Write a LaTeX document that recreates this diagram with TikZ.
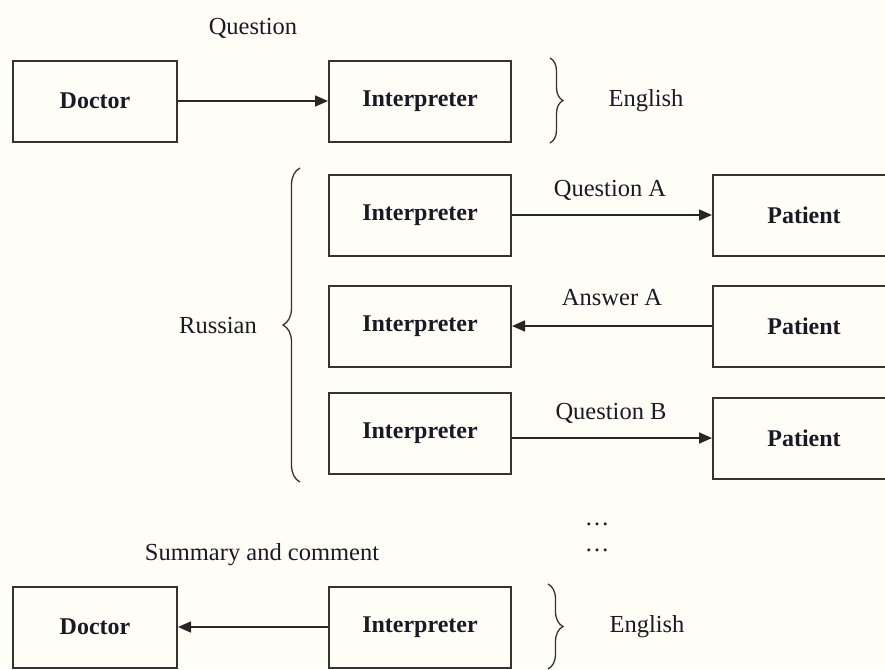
\documentclass[tikz,border=0pt]{standalone}
\usepackage{fontspec}
\setmainfont{Liberation Serif}
\usetikzlibrary{arrows.meta,decorations.pathreplacing}
\definecolor{bgcream}{HTML}{FFFEF6}
\definecolor{inkline}{HTML}{333333}
\definecolor{inktext}{HTML}{1A1A26}
\tikzset{
  box/.style={draw=inkline, line width=2pt, rectangle, minimum height=81pt,
    text=inktext, font=\fontsize{24}{28}\selectfont\bfseries, inner sep=0pt},
  docbox/.style={box, minimum width=164pt},
  intbox/.style={box, minimum width=182pt},
  lbl/.style={text=inktext, font=\fontsize{24.5}{29}\selectfont, inner sep=0pt},
  conn/.style={draw=black!85, line width=1.7pt, -{Triangle[length=13pt,width=11pt]}},
  bracestyle/.style={draw=inkline, line width=1.3pt, decorate},
}
\begin{document}
\begin{tikzpicture}[x=1pt,y=-1pt]
\fill[bgcream] (0,0) rectangle (885,669);
\clip (0,0) rectangle (885,669);

% top row
\node[docbox] (docT) at (95,101) {Doctor};
\node[intbox] (intT) at (420,101) {Interpreter};
\draw[conn] (docT.east) -- (intT.west);
\node[lbl] (qT) at (253,28) {Question};
\draw[bracestyle, decoration={brace, amplitude=13pt}] (550,58) -- (550,143);
\node[lbl] (engT) at (646,101) {English};

% Russian block
\node[intbox] (int1) at (420,215) {Interpreter};
\node[intbox] (int2) at (420,326) {Interpreter};
\node[intbox] (int3) at (420,433.5) {Interpreter};
\node[intbox] (pat1) at (804,215) {Patient};
\node[intbox] (pat2) at (804,326) {Patient};
\node[intbox] (pat3) at (804,438) {Patient};
\draw[conn] (int1.east |- pat1.west) -- (pat1.west);
\draw[conn] (pat2.west) -- (int2.east |- pat2.west);
\draw[conn] (int3.east |- pat3.west) -- (pat3.west);
\node[lbl] (qA) at (610,190) {Question A};
\node[lbl] (aA) at (612,298) {Answer A};
\node[lbl] (qB) at (611,413) {Question B};
\draw[bracestyle, decoration={brace, amplitude=17pt}] (300,482) -- (300,168);
\node[lbl] (rus) at (218,326) {Russian};

% dots
\node[lbl] (dots1) at (597,524) {\ldots};
\node[lbl] (dots2) at (597,550) {\ldots};

% bottom row
\node[lbl] (summ) at (262,555) {Summary and comment};
\node[docbox] (docB) at (95,627) {Doctor};
\node[intbox] (intB) at (420,627) {Interpreter};
\draw[conn] (intB.west) -- (docB.east);
\draw[bracestyle, decoration={brace, amplitude=15pt}] (548,584) -- (548,669);
\node[lbl] (engB) at (647,627) {English};
\end{tikzpicture}
\end{document}
